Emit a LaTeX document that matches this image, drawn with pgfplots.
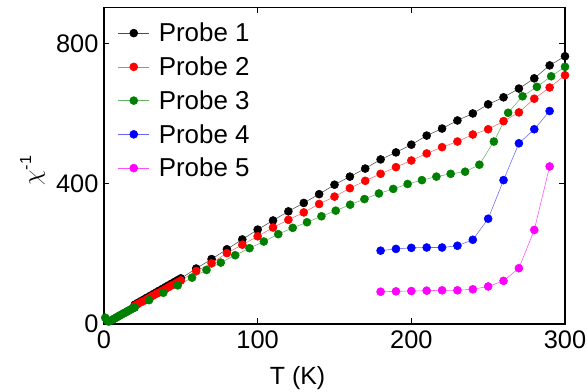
\documentclass[border=0pt]{standalone}
\usepackage{pgfplots}
\pgfplotsset{compat=1.18}
\usepackage{fontspec}
\setmainfont{Liberation Sans}
\definecolor{pgreen}{RGB}{0,128,0}
\definecolor{pmag}{RGB}{255,0,255}
\definecolor{pblue}{RGB}{0,0,255}
\definecolor{pred}{RGB}{255,0,0}
\begin{document}
\begin{tikzpicture}
\useasboundingbox (-104bp,-68bp) rectangle (483bp,324bp);
\begin{axis}[
  at={(0,0)}, anchor=south west,
  scale only axis, width=461bp, height=316.5bp,
  xmin=0, xmax=300, ymin=0, ymax=902,
  xtick={0,100,200,300}, ytick={0,400,800},
  minor tick num=0,
  tick align=inside, major tick length=5.5bp,
  axis line style={line width=1.1pt},
  every tick/.style={line width=0.9pt, black},
  /pgf/number format/assume math mode=true,
  ticklabel style={font=\fontsize{25.5}{30}\selectfont},
  xticklabel style={yshift=-3bp},
  yticklabel style={xshift=-2bp},
  xlabel={T (K)},
  xlabel style={font=\fontsize{25}{30}\selectfont, at={(axis description cs:0.42,0)}, anchor=center, yshift=-54bp},
  ylabel={$\chi$\textsuperscript{-1}},
  ylabel style={font=\fontsize{23}{27}\selectfont, at={(axis description cs:-0.155,0.485)}, anchor=center},
  legend style={draw=none, fill=none, at={(axis description cs:0.03,0.958)}, anchor=north west,
    font=\fontsize{26}{30}\selectfont, row sep=9.5bp, inner sep=0bp},
  legend cell align=left,
  legend image code/.code={
    \draw[#1, mark=none] (0cm,0cm) -- (1.09cm,0cm);
    \draw[#1, only marks] plot coordinates {(0.545cm,0cm)};
    \path (1.35cm,0cm);
  },
  every axis plot/.append style={line width=0.55pt, mark=*, mark size=4bp, mark options={solid, opacity=1}},
  clip=false,
]
\addplot[color=black!70, mark options={fill=black, draw=black}] coordinates {
(20,55)(22,60)(24,65)(26,70)(28,75)(30,80)(32,85)(34,90)(36,95)(38,100)(40,105)(42,110)(44,115)(46,120)(48,125)(50,130)
(60,158)(70,185)(80,213)(90,241)(100,269)(110,295)(120,321)(130,345)(140,370)(150,397)(160,420)(170,443)(180,469)(190,489)(200,511)(210,537)(220,557)(230,580)(240,600)(250,626)(260,646)(270,671)(280,700)(290,737)(300,763)};
\addlegendentry{Probe 1}
\addplot[color=pred!60, mark options={fill=pred, draw=pred}] coordinates {
(20,52)(22,57)(24,62)(26,66)(28,71)(30,76)(32,81)(34,86)(36,90)(38,95)(40,100)(42,105)(44,110)(46,114)(48,119)(50,124)
(60,151)(70,173)(80,202)(90,226)(100,250)(110,275)(120,297)(130,318)(140,342)(150,363)(160,387)(170,408)(180,428)(190,447)(200,466)(210,486)(220,504)(230,520)(240,540)(250,555)(260,578)(270,603)(280,642)(290,674)(300,709)};
\addlegendentry{Probe 2}
\addplot[color=pgreen!60, mark options={fill=pgreen, draw=pgreen}] coordinates {
(0.8,18)(2,10)(3,7)(4,9)(5,11)(6,13.5)(7,16)(8,18.5)(9,21)(10,23.5)(11,26)(12,28.5)(13,31)(14,33)(15,35.5)(16,38)(17,40.5)(18,43)(19,45)(20,47)
(29.3,68)(38.6,89)(48,110)(57.3,132)(66.7,154)(76,175)(85.4,196)(94.7,216)(104,235)(113.4,256)(122.8,274)(132.1,290)(141.5,307)(150.8,323)(160.2,340)(169.5,356)(178.9,372)(188.2,385)(197.6,399)(206.9,410)(216.3,420)(225.6,428)(235,434)(244.3,454)(253.7,520)(263,602)(272.4,649)(281.7,676)(291,706)(300,733)};
\addlegendentry{Probe 3}
\addplot[color=pblue!60, mark options={fill=pblue, draw=pblue}] coordinates {
(180,209)(190,214)(200,217)(210,218)(220,218)(230,223)(240,240)(250,300)(260,410)(270,515)(280,555)(290,607)};
\addlegendentry{Probe 4}
\addplot[color=pmag!70, mark options={fill=pmag, draw=pmag}] coordinates {
(180,92)(190,93)(200,94)(210,95)(220,96)(230,96)(240,99)(250,107)(260,123)(270,159)(280,268)(290,449)};
\addlegendentry{Probe 5}
\end{axis}
\end{tikzpicture}
\end{document}
